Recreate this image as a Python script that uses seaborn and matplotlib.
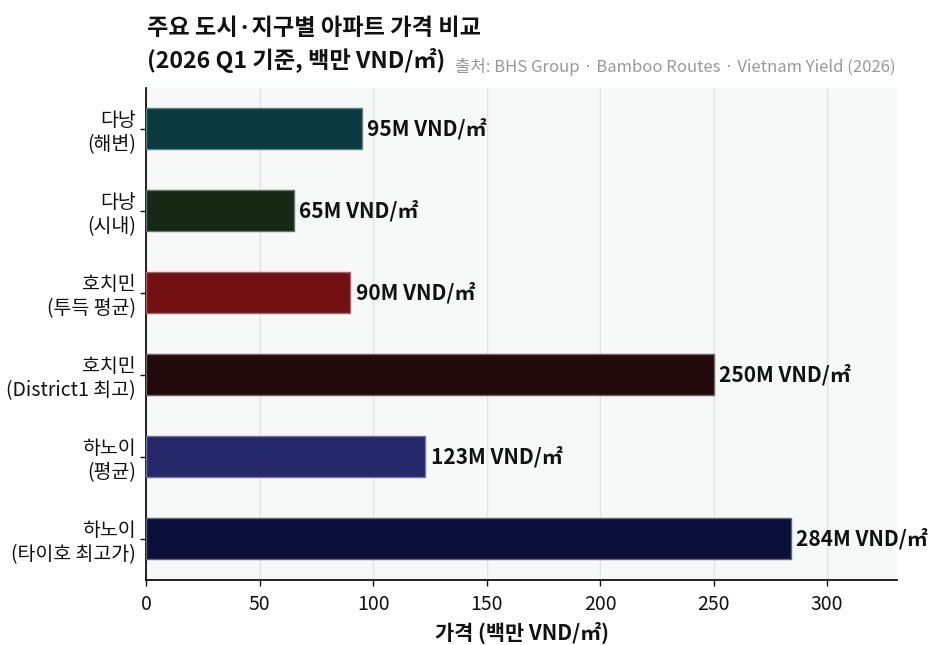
import matplotlib
matplotlib.use("Agg")
import matplotlib.pyplot as plt
import matplotlib.colors as mcolors
import seaborn as sns
import pandas as pd

# Apartment prices by city / district, 2026 Q1 (million VND per m²)
categories = ["다낭\n(해변)", "다낭\n(시내)", "호치민\n(투득 평균)",
              "호치민\n(District1 최고)", "하노이\n(평균)", "하노이\n(타이호 최고가)"]
prices = [95, 65, 90, 250, 123, 284]
bar_colors = ["#0a3a3d", "#142814", "#731012", "#230b0d", "#25296a", "#0c0f3a"]
x_ticks = [0, 50, 100, 150, 200, 250, 300]

sns.set_theme(style="white")
plt.rcParams["font.family"] = ["Noto Sans CJK KR", "DejaVu Sans"]

df = pd.DataFrame({"category": categories, "price": prices})

fig = plt.figure(figsize=(9.31, 6.45), dpi=100)
ax = fig.add_axes([0.157, 0.101, 0.807, 0.763])
ax.set_facecolor("#f7f9f8")

sns.barplot(data=df, y="category", x="price", hue="category",
            palette=bar_colors, saturation=1, legend=False, orient="h",
            width=0.5, ax=ax, zorder=3)

# light tinted outline on each bar
for patch, c in zip(ax.patches, bar_colors):
    rgb = mcolors.to_rgb(c)
    edge = tuple(v + (1 - v) * 0.35 for v in rgb)
    patch.set_edgecolor(edge)
    patch.set_linewidth(1.0)

for i, v in enumerate(prices):
    ax.text(v + 2.5, i, f"{v}M VND/㎡", va="center", ha="left",
            fontsize=15, fontweight="bold", color="#111111", zorder=4)

ax.set_xlim(0, 331)
ax.set_xticks(x_ticks)
ax.grid(axis="x", color="#e2e2e2", linewidth=1.0, zorder=0)
ax.grid(axis="y", visible=False)
ax.set_axisbelow(True)

for side in ["top", "right"]:
    ax.spines[side].set_visible(False)
for side in ["left", "bottom"]:
    ax.spines[side].set_color("#111111")
    ax.spines[side].set_linewidth(1.3)

ax.tick_params(axis="both", which="both", length=4, width=1, color="#111111",
               labelcolor="#111111", left=True, bottom=True)
ax.tick_params(axis="y", labelsize=14)
ax.tick_params(axis="x", labelsize=14, pad=6)
ax.set_ylabel("")
ax.set_xlabel("가격 (백만 VND/㎡)", fontsize=15, fontweight="bold",
              color="#111111", labelpad=5)

fig.text(0.158, 0.887, "주요 도시·지구별 아파트 가격 비교\n(2026 Q1 기준, 백만 VND/㎡)",
         ha="left", va="bottom", fontsize=16.7, fontweight="bold",
         color="#111111", linespacing=1.4)
fig.text(0.962, 0.882, "출처: BHS Group · Bamboo Routes · Vietnam Yield (2026)",
         ha="right", va="bottom", fontsize=12, color="#999999")

fig.savefig("out.png", dpi=100)
